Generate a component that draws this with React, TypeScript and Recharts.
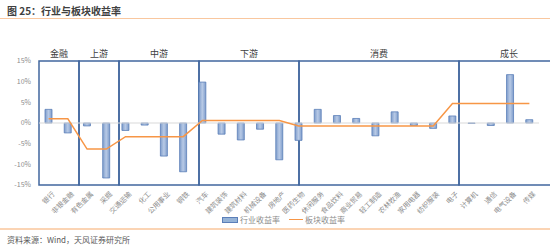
import React from 'react';
import {
  ComposedChart, Bar, Line, XAxis, YAxis, ReferenceArea, ReferenceLine, Legend,
} from 'recharts';

const categories = [
  '银行', '非银金融',
  '有色金属', '采掘',
  '交通运输', '化工', '公用事业', '钢铁',
  '汽车', '建筑装饰', '建筑材料', '机械设备', '房地产',
  '医药生物', '休闲服务', '食品饮料', '商业贸易', '轻工制造', '农林牧渔', '家用电器', '纺织服装',
  '电子', '计算机', '通信', '电气设备', '传媒',
];
const industryReturn = [
  3.3, -2.4,
  -0.7, -13.3,
  -1.8, -0.5, -8.0, -11.8,
  9.9, -2.7, -4.1, -1.5, -8.9,
  -4.2, 3.3, 1.8, 1.1, -3.1, 2.7, -0.6, -1.3,
  1.7, -0.1, -0.6, 11.7, 0.8,
];
const groupNames = ['金融', '上游', '中游', '下游', '消费', '成长'];
const groupSizes = [2, 2, 4, 5, 8, 5];
const sectorReturn = [1.0, -6.3, -3.3, 0.6, -0.7, 4.7];
const yTicks = [-15, -10, -5, 0, 5, 10, 15];

// per-category sector value + group box spans
const sectorByCat: number[] = [];
const groupSpans: { name: string; start: number; end: number }[] = [];
let pos = 0;
groupNames.forEach((name, i) => {
  groupSpans.push({ name, start: pos, end: pos + groupSizes[i] });
  for (let k = 0; k < groupSizes[i]; k++) sectorByCat.push(sectorReturn[i]);
  pos += groupSizes[i];
});

const data = categories.map((name, i) => ({
  name,
  行业收益率: industryReturn[i],
  板块收益率: sectorByCat[i],
}));

const FONT = '"Noto Sans CJK SC", "Noto Sans", sans-serif';
const BOX = '#41679E';

const LegendContent = () => (
  <div style={{ display: 'flex', alignItems: 'center', fontSize: 8, color: '#8c8c8c', fontFamily: FONT }}>
    <span style={{ display: 'inline-block', width: 14, height: 4, background: '#95B3D7', border: '1px solid #5B7FB9', marginRight: 2 }} />
    <span style={{ marginRight: 9 }}>行业收益率</span>
    <span style={{ display: 'inline-block', width: 14, height: 1.5, background: '#F79646', marginRight: 2 }} />
    <span>板块收益率</span>
  </div>
);

export default function App() {
  return (
    <div style={{ position: 'absolute', left: 0, top: 0, width: 550, height: 249, background: '#fff', overflow: 'hidden' }}>
      <div style={{ position: 'absolute', left: 7, top: 3, fontSize: 10, fontWeight: 'bold', color: '#404040', fontFamily: FONT }}>
        图 25：行业与板块收益率
      </div>
      <div style={{ position: 'absolute', left: 0, top: 18, width: 550, height: 1, background: '#F9C79F' }} />

      <div style={{ position: 'absolute', left: 0, top: 0 }}>
        <ComposedChart
          width={550}
          height={229}
          data={data}
          margin={{ top: 61, right: 11, bottom: 4, left: 9 }}
        >
          <defs>
            <linearGradient id="barGrad" x1="0" y1="0" x2="1" y2="0">
              <stop offset="0%" stopColor="#7F9DCB" />
              <stop offset="50%" stopColor="#B8CAE6" />
              <stop offset="100%" stopColor="#7F9DCB" />
            </linearGradient>
          </defs>
          <XAxis
            dataKey="name"
            interval={0}
            axisLine={false}
            tickLine={false}
            height={40}
            tickMargin={0}
            tick={{ angle: -45, textAnchor: 'end', fontSize: 7, fill: '#8c8c8c', fontFamily: FONT, dx: 3 }}
          />
          <XAxis xAxisId="box" type="number" domain={[0, categories.length]} hide />
          <YAxis
            width={30}
            domain={[-15, 15]}
            ticks={yTicks}
            axisLine={false}
            tickLine={false}
            tickFormatter={(v) => `${v}%`}
            tick={{ fontSize: 7, fill: '#8c8c8c', fontFamily: FONT }}
            tickMargin={2}
          />
          <ReferenceLine y={0} stroke="#D9D9D9" strokeWidth={1} />
          {groupSpans.map((g) => (
            <ReferenceArea
              key={g.name}
              xAxisId="box"
              x1={g.start}
              x2={g.end}
              y1={-15}
              y2={15}
              fill="none"
              fillOpacity={0}
              stroke={BOX}
              strokeWidth={1.5}
              ifOverflow="visible"
              label={{ value: g.name, position: 'top', offset: 4, fontSize: 9, fill: '#404040', fontFamily: FONT }}
            />
          ))}
          <Bar
            dataKey="行业收益率"
            barSize={7}
            fill="url(#barGrad)"
            stroke="#5B7FB9"
            strokeWidth={0.8}
            isAnimationActive={false}
          />
          <Line
            dataKey="板块收益率"
            type="linear"
            stroke="#F79646"
            strokeWidth={1.5}
            dot={false}
            activeDot={false}
            isAnimationActive={false}
          />
          <Legend
            verticalAlign="middle"
            align="center"
            content={<LegendContent />}
            wrapperStyle={{ top: 214, left: 222, width: 'auto' }}
          />
        </ComposedChart>
      </div>

      <div style={{ position: 'absolute', left: 0, top: 228, width: 550, height: 2, background: '#FBD4B4' }} />
      <div style={{ position: 'absolute', left: 7, top: 234, fontSize: 8, color: '#595959', fontFamily: FONT }}>
        资料来源：Wind，天风证券研究所
      </div>
    </div>
  );
}
